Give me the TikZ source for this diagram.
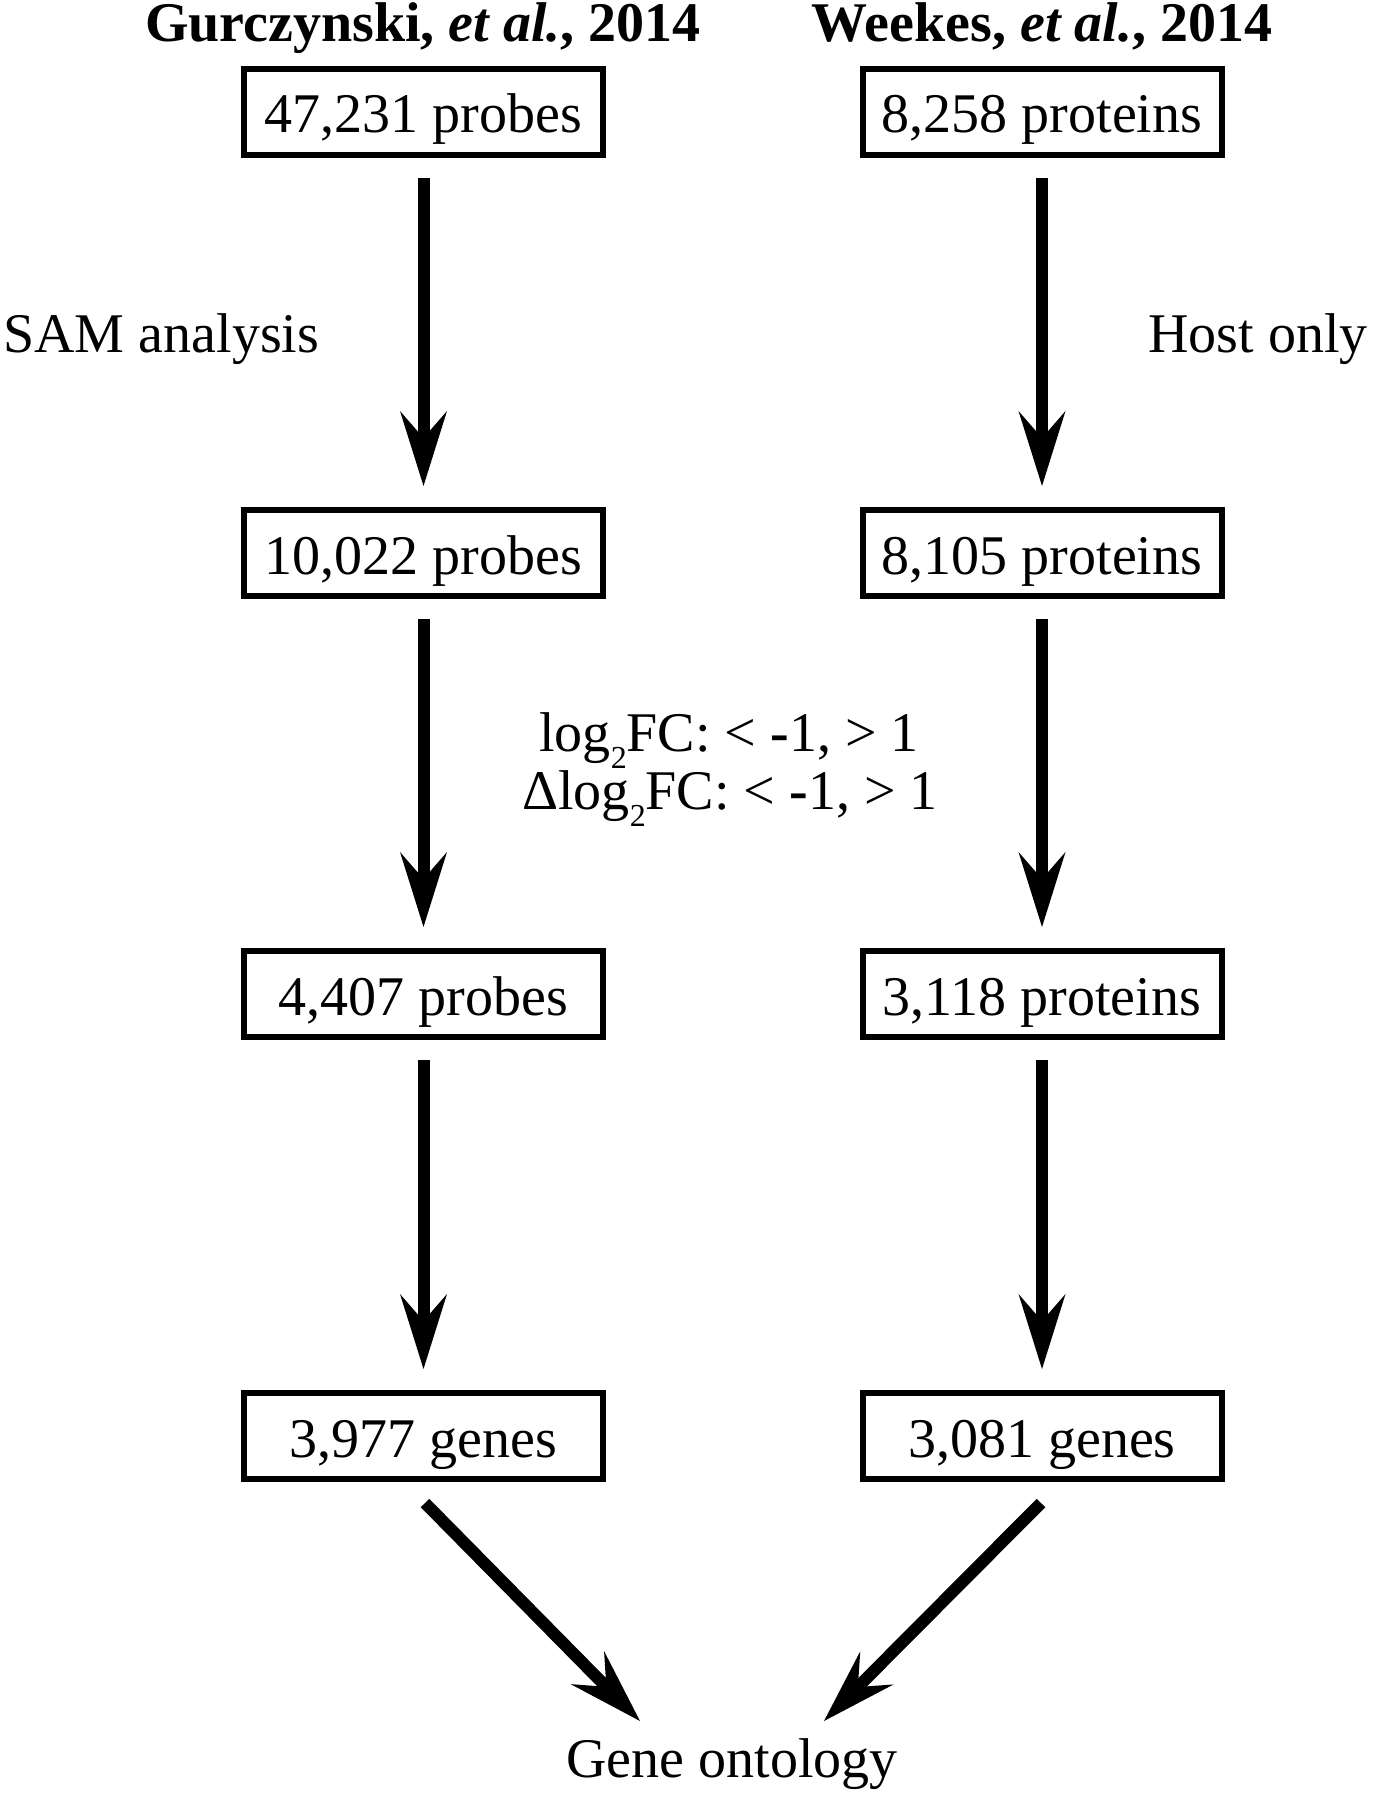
\documentclass[tikz,border=0pt]{standalone}
\usepackage{fontspec}
\setmainfont{Liberation Serif}
\usetikzlibrary{arrows.meta}
\newcommand\lowsub[1]{\raisebox{-8.5pt}{\fontsize{16}{16}\selectfont #1}}
\begin{document}
\begin{tikzpicture}[x=0.5pt,y=-0.5pt,
  box/.style={draw, line width=3pt, minimum width=179.5pt, minimum height=43pt,
    inner sep=0pt, text height=21pt, text depth=0pt, font=\fontsize{28}{34}\selectfont},
  lbl/.style={inner sep=0pt, anchor=base, font=\fontsize{28}{34}\selectfont},
  tipst/.style={-{Stealth[length=37.5pt,width=23.5pt,inset=13.5pt,line width=0pt]}},
  flow/.style={line width=6pt, tipst, shorten <=10pt, shorten >=10.5pt},
  diag/.style={line width=6pt, tipst},
]
\useasboundingbox (0,0) rectangle (1374,1798);

% titles
\node[lbl] (t1) at (423,42) {\textbf{Gurczynski, \textit{et al.}, 2014}};
\node[lbl] (t2) at (1042,42) {\textbf{Weekes, \textit{et al.}, 2014}};

% left column
\node[box] (a1) at (423.5,112) {47,231 probes};
\node[box] (a2) at (423.5,553) {10,022 probes};
\node[box] (a3) at (423.5,994) {4,407 probes};
\node[box] (a4) at (423.5,1436) {3,977 genes};

% right column
\node[box] (b1) at (1042,112) {8,258 proteins};
\node[box] (b2) at (1042,553) {8,105 proteins};
\node[box] (b3) at (1042,994) {3,118 proteins};
\node[box] (b4) at (1042,1436) {3,081 genes};

% vertical arrows
\draw[flow] (a1) -- (a2);
\draw[flow] (a2) -- (a3);
\draw[flow] (a3) -- (a4);
\draw[flow] (b1) -- (b2);
\draw[flow] (b2) -- (b3);
\draw[flow] (b3) -- (b4);

% labels
\node[lbl, anchor=base west] (sam) at (3,352) {SAM analysis};
\node[lbl, anchor=base east] (host) at (1368,352) {Host only};
\node[lbl] (fc1) at (729,751) {log\lowsub{2}FC: < \textbf{-}1, > 1};
\node[lbl] (fc2) at (730,809) {Δlog\lowsub{2}FC: < \textbf{-}1, > 1};

% gene ontology
\node[lbl] (go) at (732,1777) {Gene ontology};
\coordinate (l0) at (425,1503);
\coordinate (l1) at (640,1721);
\coordinate (r0) at (1041,1503);
\coordinate (r1) at (824,1721);
\draw[diag] (l0) -- (l1);
\draw[diag] (r0) -- (r1);
\end{tikzpicture}
\end{document}
